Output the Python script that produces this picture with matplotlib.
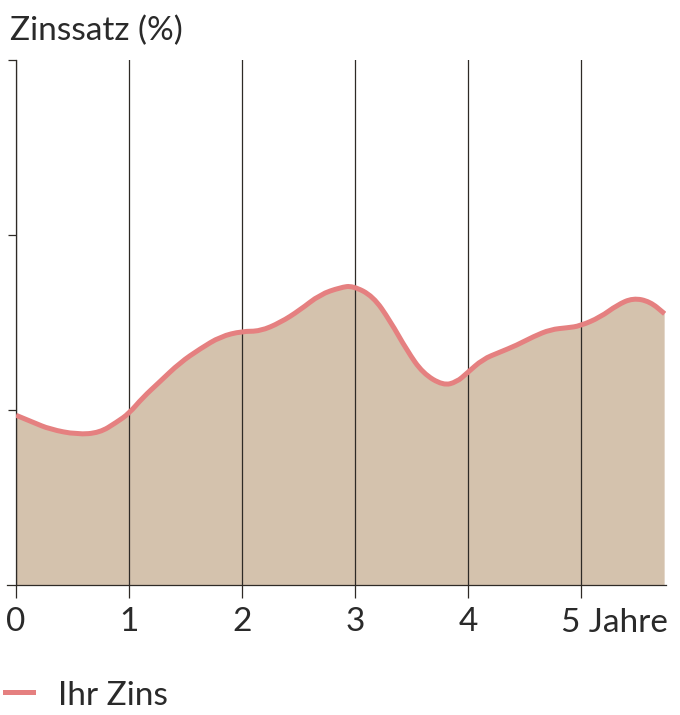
import numpy as np
import matplotlib
matplotlib.use("Agg")
import matplotlib.pyplot as plt
from matplotlib.path import Path
from matplotlib.patches import PathPatch

# Zinsverlauf (Jahre, Zinssatz in Tick-Einheiten)
jahre = [0.00, 0.15, 0.30, 0.54, 0.74, 0.89, 1.00, 1.12, 1.27, 1.45, 1.63, 1.81,
         2.00, 2.16, 2.34, 2.51, 2.69, 2.87, 2.98, 3.16, 3.31, 3.46, 3.60, 3.78,
         3.90, 3.99, 4.13, 4.28, 4.43, 4.58, 4.73, 4.88, 4.99, 5.17, 5.32, 5.46,
         5.61, 5.74]
zins = [0.97, 0.93, 0.89, 0.86, 0.87, 0.93, 0.98, 1.07, 1.16, 1.27, 1.35, 1.42,
        1.45, 1.45, 1.50, 1.57, 1.66, 1.70, 1.71, 1.65, 1.51, 1.34, 1.21, 1.14,
        1.16, 1.21, 1.29, 1.33, 1.37, 1.42, 1.46, 1.47, 1.48, 1.53, 1.60, 1.64,
        1.62, 1.55]
xticks = [0, 1, 2, 3, 4, 5]
xlabels = ["0", "1", "2", "3", "4", "5 Jahre"]
yticks = [1, 2, 3]

fill_col = "#d4c2ad"
line_col = "#e58080"
dark = "#2e2a26"
txt_col = "#2a2a2a"
font = "Lato"


def smooth_path(xs, ys):
    # glatte Kurve: quadratische Bezier-Stuecke durch die Mittelpunkte
    pts = list(zip(xs, ys))
    verts = [pts[0]]
    codes = [Path.MOVETO]
    for i in range(1, len(pts) - 1):
        mid = ((pts[i][0] + pts[i + 1][0]) / 2, (pts[i][1] + pts[i + 1][1]) / 2)
        if i == 1:
            m0 = ((pts[0][0] + pts[1][0]) / 2, (pts[0][1] + pts[1][1]) / 2)
            verts.append(m0)
            codes.append(Path.LINETO)
        verts += [pts[i], mid]
        codes += [Path.CURVE3, Path.CURVE3]
    verts.append(pts[-1])
    codes.append(Path.LINETO)
    return verts, codes


W, H = 680, 715
fig = plt.figure(figsize=(W / 100, H / 100), dpi=100)
ax = fig.add_axes([16 / W, (H - 585) / H, (666 - 16) / W, 525 / H])

verts, codes = smooth_path(jahre, zins)
fill_verts = verts + [(jahre[-1], 0), (jahre[0], 0), verts[0]]
fill_codes = codes + [Path.LINETO, Path.LINETO, Path.CLOSEPOLY]
ax.add_patch(PathPatch(Path(fill_verts, fill_codes), facecolor=fill_col,
                       edgecolor="none", zorder=1))
ax.add_patch(PathPatch(Path(verts, codes), facecolor="none", edgecolor=line_col,
                       linewidth=3.6, capstyle="butt", zorder=3))

ax.set_xlim(0, 5.752)
ax.set_ylim(0, 3)
ax.set_xticks(xticks)
# letztes Label "5 Jahre" wird rechtsbuendig extra gesetzt
ax.set_xticklabels(xlabels[:-1] + [""], fontsize=24, family=font, color=txt_col)
ax.annotate(xlabels[-1], xy=(1.003, 0), xycoords="axes fraction",
            xytext=(0, -33.8), textcoords="offset points", ha="right", va="baseline",
            fontsize=24, family=font, color=txt_col, annotation_clip=False)
ax.set_yticks(yticks)
ax.set_yticklabels([])
ax.grid(axis="x", color=dark, linewidth=0.9, zorder=2)

for s in ["top", "right", "bottom"]:
    ax.spines[s].set_visible(False)
ax.spines["left"].set_color(dark)
ax.spines["left"].set_linewidth(0.9)

ax.tick_params(axis="x", direction="out", length=9, width=0.9, color=dark, pad=7)
ax.tick_params(axis="y", direction="out", length=6, width=0.9, color=dark)

# Grundlinie etwas links vom Ursprung beginnen lassen
ax.plot([-0.08, 5.752], [0, 0], color=dark, linewidth=0.9, clip_on=False, zorder=4)

fig.text(10 / W, 1 - 40 / H, "Zinssatz (%)", fontsize=24, family=font,
         color=txt_col, va="baseline", ha="left")

# Legende
fig.add_artist(plt.Line2D([5 / W, 33 / W], [1 - 692 / H, 1 - 692 / H],
                          color=line_col, linewidth=3.6))
fig.text(58 / W, 1 - 705 / H, "Ihr Zins", fontsize=24, family=font,
         color=txt_col, va="baseline", ha="left")

fig.savefig("out.png", dpi=100)
